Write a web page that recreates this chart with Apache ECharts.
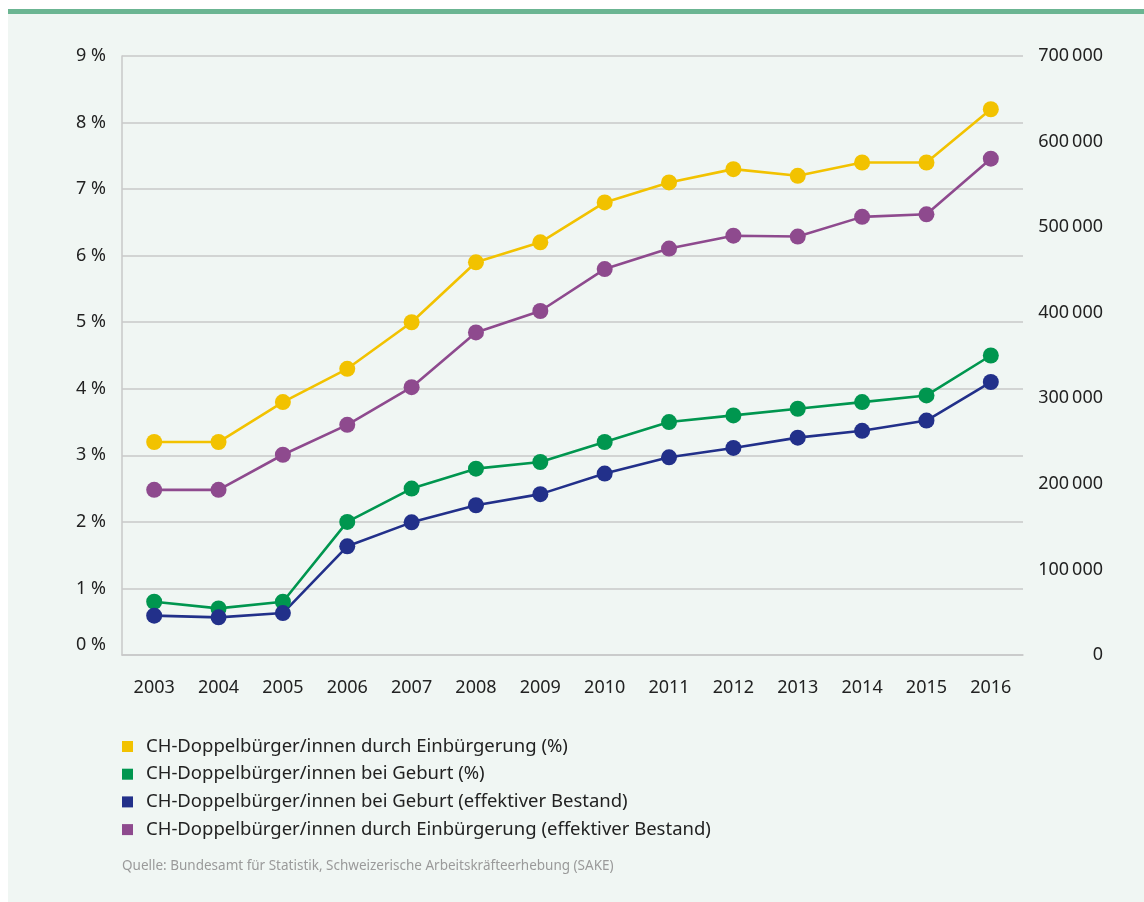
<!DOCTYPE html>
<html>
<head>
<meta charset="utf-8">
<script src="https://cdn.jsdelivr.net/npm/echarts@6/dist/echarts.min.js"></script>
<style>
  html, body { margin: 0; padding: 0; background: #ffffff; }
  #panel {
    position: absolute; left: 8px; top: 9px; width: 1136px; height: 893px;
    background: #f0f6f3; border-top: 5px solid #6bb592; box-sizing: border-box;
  }
  #chart { position: absolute; left: 0; top: 0; width: 1144px; height: 902px; }
</style>
</head>
<body>
<div id="panel"></div>
<div id="chart"></div>
<script>
const years = ["2003", "2004", "2005", "2006", "2007", "2008", "2009", "2010", "2011", "2012", "2013", "2014", "2015", "2016"];

// Anteil in % (linke Achse)
const einbuergerungPct = [3.2, 3.2, 3.8, 4.3, 5.0, 5.9, 6.2, 6.8, 7.1, 7.3, 7.2, 7.4, 7.4, 8.2];
const geburtPct = [0.8, 0.7, 0.8, 2.0, 2.5, 2.8, 2.9, 3.2, 3.5, 3.6, 3.7, 3.8, 3.9, 4.5];

// effektiver Bestand (rechte Achse)
const geburtBestand = [46000, 44000, 49000, 127000, 155000, 175000, 188000, 212000, 231000, 242000, 254000, 262000, 274000, 319000];
const einbuergerungBestand = [193000, 193000, 234000, 269000, 313000, 377000, 402000, 451000, 475000, 490000, 489000, 512000, 515000, 580000];

const seriesNames = [
  "CH-Doppelbürger/innen durch Einbürgerung (%)",
  "CH-Doppelbürger/innen bei Geburt (%)",
  "CH-Doppelbürger/innen bei Geburt (effektiver Bestand)",
  "CH-Doppelbürger/innen durch Einbürgerung (effektiver Bestand)"
];
const colors = ["#f2c200", "#00964f", "#22308a", "#8e4a8e"];

const fontFamily = "'Noto Sans', 'Open Sans', sans-serif";
const gridColor = "#c8c8c8";

function formatThousands(value) {
  return String(value).replace(/\B(?=(\d{3})+(?!\d))/g, "\u2009");
}

// the 0 % label sits a little above the axis line in the original
function formatPercent(value) {
  return value === 0 ? "{z|0 %}" : value + " %";
}

function lineSeries(name, data, color, axisIndex) {
  return {
    name: name,
    type: "line",
    yAxisIndex: axisIndex,
    data: data,
    symbol: "circle",
    symbolSize: 16,
    color: color,
    lineStyle: { color: color, width: 2.6 },
    itemStyle: { color: color },
    emphasis: { disabled: true },
    animation: false
  };
}

const chart = echarts.init(document.getElementById("chart"));

chart.setOption({
  backgroundColor: "transparent",
  textStyle: { fontFamily: fontFamily },
  grid: { left: 122, right: 121, top: 56, bottom: 247, containLabel: false },
  legend: {
    orient: "vertical",
    left: 117,
    top: 732,
    icon: "rect",
    itemWidth: 11,
    itemHeight: 11,
    itemGap: 8.7,
    selectedMode: false,
    textStyle: { color: "#222222", fontSize: 18.5, lineHeight: 18, padding: [0, 0, 0, 8] },
    data: seriesNames
  },
  xAxis: {
    type: "category",
    data: years,
    boundaryGap: true,
    axisTick: { show: false },
    axisLine: { lineStyle: { color: gridColor, width: 1.5 } },
    axisLabel: { color: "#222222", fontSize: 18, margin: 24 }
  },
  yAxis: [
    {
      type: "value",
      min: 0,
      max: 9,
      interval: 1,
      axisLine: { show: true, lineStyle: { color: gridColor, width: 1.5 } },
      axisTick: { show: false },
      splitLine: { lineStyle: { color: gridColor, width: 1.5 } },
      axisLabel: {
        color: "#222222",
        fontSize: 18,
        margin: 16,
        formatter: formatPercent,
        rich: { z: { fontSize: 18, color: "#222222", padding: [0, 0, 20, 0] } }
      }
    },
    {
      type: "value",
      min: 0,
      max: 700000,
      interval: 100000,
      position: "right",
      axisLine: { show: false },
      axisTick: { show: false },
      splitLine: { show: false },
      axisLabel: { color: "#222222", fontSize: 18, margin: 80, align: "right", formatter: formatThousands }
    }
  ],
  graphic: [
    {
      type: "text",
      left: 122,
      top: 859,
      style: {
        text: "Quelle: Bundesamt für Statistik, Schweizerische Arbeitskräfteerhebung (SAKE)",
        fill: "#9a9a9a",
        font: "13.5px " + fontFamily
      }
    }
  ],
  series: [
    lineSeries(seriesNames[0], einbuergerungPct, colors[0], 0),
    lineSeries(seriesNames[1], geburtPct, colors[1], 0),
    lineSeries(seriesNames[2], geburtBestand, colors[2], 1),
    lineSeries(seriesNames[3], einbuergerungBestand, colors[3], 1)
  ]
});
</script>
</body>
</html>
